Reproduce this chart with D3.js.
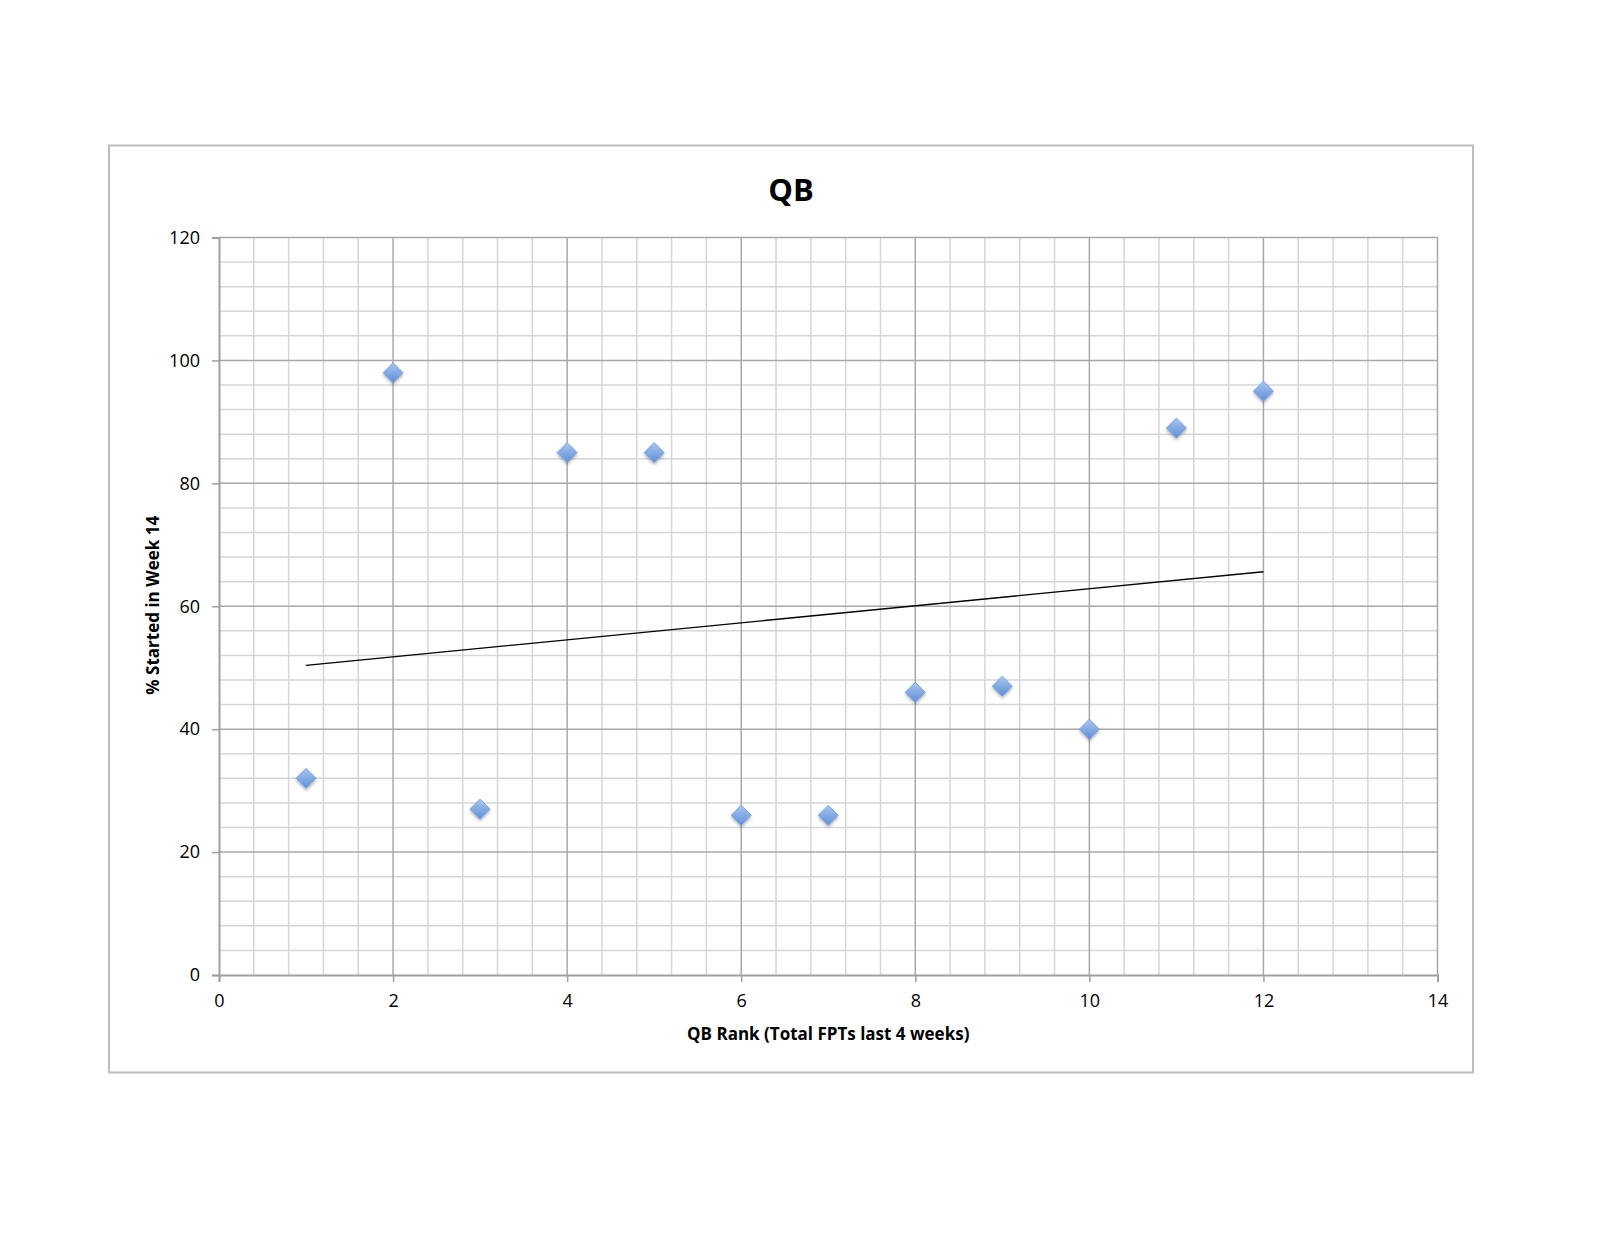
<!DOCTYPE html>
<html><head><meta charset="utf-8">
<script src="https://cdn.jsdelivr.net/npm/d3@7"></script>
<style>body{margin:0;background:#fff}svg{display:block}</style>
</head><body>
<script>
const ranks = [1,2,3,4,5,6,7,8,9,10,11,12];
const pctStarted = [32,98,27,85,85,26,26,46,47,40,89,95];
const xTicks = [0,2,4,6,8,10,12,14];
const yTicks = [0,20,40,60,80,100,120];
const title = "QB";
const xLabel = "QB Rank (Total FPTs last 4 weeks)";
const yLabel = "% Started in Week 14";

const W=1600,H=1236;
const svg=d3.select("body").append("svg").attr("width",W).attr("height",H);
const defs=svg.append("defs");
const g1=defs.append("linearGradient").attr("id","dg").attr("x1","0").attr("y1","0").attr("x2","0").attr("y2","1");
g1.append("stop").attr("offset","0").attr("stop-color","#a9c6ef");
g1.append("stop").attr("offset","1").attr("stop-color","#5e8fd8");
const f=defs.append("filter").attr("id","sh").attr("x","-50%").attr("y","-50%").attr("width","200%").attr("height","200%");
f.append("feDropShadow").attr("dx",0).attr("dy",2).attr("stdDeviation",1.5).attr("flood-color","#000").attr("flood-opacity",0.3);

svg.append("rect").attr("x",109).attr("y",145.5).attr("width",1364).attr("height",927)
  .attr("fill","#fff").attr("stroke","#bdbdbd").attr("stroke-width",2);

const L=219,R=1437.5,T=237.5,B=975;
const x=d3.scaleLinear().domain([0,14]).range([L,R]);
const y=d3.scaleLinear().domain([0,120]).range([B,T]);

const grid=svg.append("g");
const xMinor=d3.range(0,14.0001,0.4).map(v=>+v.toFixed(2));
const yMinor=d3.range(0,120.0001,4);
grid.selectAll(".vx").data(xMinor.filter(v=>Math.abs(v/2-Math.round(v/2))>1e-6)).join("line")
  .attr("x1",d=>x(d)).attr("x2",d=>x(d)).attr("y1",T).attr("y2",B).attr("stroke","#d6d6d6").attr("stroke-width",1.5);
grid.selectAll(".hy").data(yMinor.filter(v=>v%20!==0)).join("line")
  .attr("y1",d=>y(d)).attr("y2",d=>y(d)).attr("x1",L).attr("x2",R).attr("stroke","#d6d6d6").attr("stroke-width",1.5);
grid.selectAll(".vX").data(xTicks.slice(1)).join("line")
  .attr("x1",d=>x(d)).attr("x2",d=>x(d)).attr("y1",T).attr("y2",B).attr("stroke","#a8a8a8").attr("stroke-width",1.5);
grid.selectAll(".hY").data(yTicks.slice(1)).join("line")
  .attr("y1",d=>y(d)).attr("y2",d=>y(d)).attr("x1",L).attr("x2",R).attr("stroke","#a8a8a8").attr("stroke-width",1.5);

const font="'Open Sans', 'Liberation Sans', sans-serif";
const xAxis=svg.append("g").attr("transform",`translate(0,${B})`)
  .call(d3.axisBottom(x).tickValues(xTicks).tickSize(7).tickPadding(12).tickFormat(d3.format("d")));
const yAxis=svg.append("g").attr("transform",`translate(${L},0)`)
  .call(d3.axisLeft(y).tickValues(yTicks).tickSize(7).tickPadding(12).tickFormat(d3.format("d")));
[xAxis,yAxis].forEach(a=>{
  a.select(".domain").attr("stroke","#a0a0a0").attr("stroke-width",2);
  a.selectAll(".tick line").attr("stroke","#a0a0a0").attr("stroke-width",1.5);
  a.selectAll("text").attr("font-family",font).attr("font-size",18).attr("fill","#000");
});

// trendline (least squares fit of the data)
const mx=d3.mean(ranks), my=d3.mean(pctStarted);
const slope=d3.sum(ranks,(v,i)=>(v-mx)*(pctStarted[i]-my))/d3.sum(ranks,v=>(v-mx)**2);
const icpt=my-slope*mx;
const xmin=d3.min(ranks), xmax=d3.max(ranks);
svg.append("line").attr("x1",x(xmin)).attr("y1",y(icpt+slope*xmin))
  .attr("x2",x(xmax)).attr("y2",y(icpt+slope*xmax)).attr("stroke","#000").attr("stroke-width",1.3);

const s=10;
svg.append("g").selectAll("path").data(ranks.map((r,i)=>[r,pctStarted[i]])).join("path")
  .attr("d",d=>{const cx=x(d[0]),cy=y(d[1]);return `M${cx},${cy-s}L${cx+s},${cy}L${cx},${cy+s}L${cx-s},${cy}Z`;})
  .attr("fill","url(#dg)").attr("stroke","#6f9be0").attr("stroke-width",0.8).attr("filter","url(#sh)");

svg.append("text").attr("x",791).attr("y",201).attr("text-anchor","middle")
  .attr("font-family",font).attr("font-weight","bold").attr("font-size",31).text(title);
svg.append("text").attr("x",(L+R)/2).attr("y",1040).attr("text-anchor","middle")
  .attr("font-family",font).attr("font-weight","bold").attr("font-size",17).text(xLabel);
svg.append("text").attr("transform",`translate(159,${(T+B)/2-1}) rotate(-90)`).attr("text-anchor","middle")
  .attr("font-family",font).attr("font-weight","bold").attr("font-size",17).text(yLabel);
</script>
</body></html>
